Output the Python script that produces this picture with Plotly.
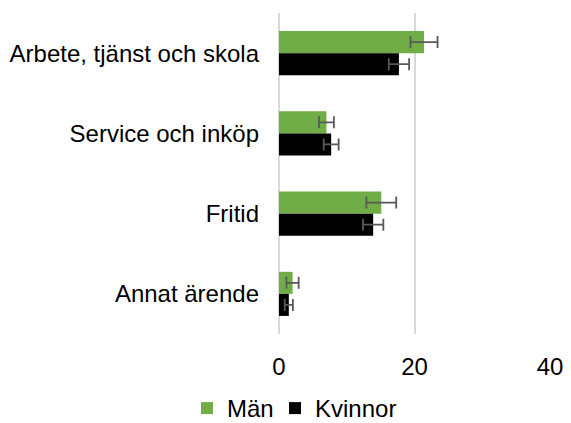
import plotly.graph_objects as go

categories = ["Arbete, tjänst och skola", "Service och inköp", "Fritid", "Annat ärende"]
man_values = [21.4, 7.0, 15.1, 2.0]
man_errors = [2.0, 1.1, 2.2, 0.9]
kvinnor_values = [17.7, 7.7, 13.9, 1.45]
kvinnor_errors = [1.5, 1.1, 1.5, 0.6]
x_ticks = [0, 20, 40]

font = dict(family="Liberation Sans, Arial, sans-serif", size=24, color="#000000")
err_style = dict(type="data", color="#595959", thickness=1.8, width=6)

fig = go.Figure()
fig.add_trace(go.Bar(
    name="Män", y=categories, x=man_values, orientation="h",
    marker=dict(color="#70ad47", line=dict(width=0)),
    error_x=dict(array=man_errors, **err_style),
    legend="legend",
))
fig.add_trace(go.Bar(
    name="Kvinnor", y=categories, x=kvinnor_values, orientation="h",
    marker=dict(color="#000000", line=dict(width=0)),
    error_x=dict(array=kvinnor_errors, **err_style),
    legend="legend2",
))

leg_common = dict(orientation="h", xanchor="left", xref="container", yref="container",
                  y=0, yanchor="bottom", font=dict(size=24), itemwidth=30,
                  bgcolor="rgba(0,0,0,0)")

fig.update_layout(
    width=571, height=423,
    margin=dict(l=271, r=29, t=5, b=97),
    paper_bgcolor="white", plot_bgcolor="white",
    barmode="group", bargap=0.45, bargroupgap=0,
    font=font,
    showlegend=True,
    legend=dict(x=179 / 571, **leg_common),
    legend2=dict(x=267 / 571, **leg_common),
    xaxis=dict(range=[0, 40], tickvals=x_ticks, showgrid=True,
               gridcolor="#d9d9d9", gridwidth=1.5, zeroline=True, zerolinecolor="#d9d9d9",
               zerolinewidth=2, showline=False, ticks="", ticklen=0, tickfont=dict(size=24),
               ticklabelstandoff=16, automargin=False),
    yaxis=dict(autorange="reversed", showgrid=False, zeroline=False, showline=False,
               ticks="", ticklabelstandoff=19, tickfont=dict(size=24), automargin=False),
)

fig.write_html("out.html")
